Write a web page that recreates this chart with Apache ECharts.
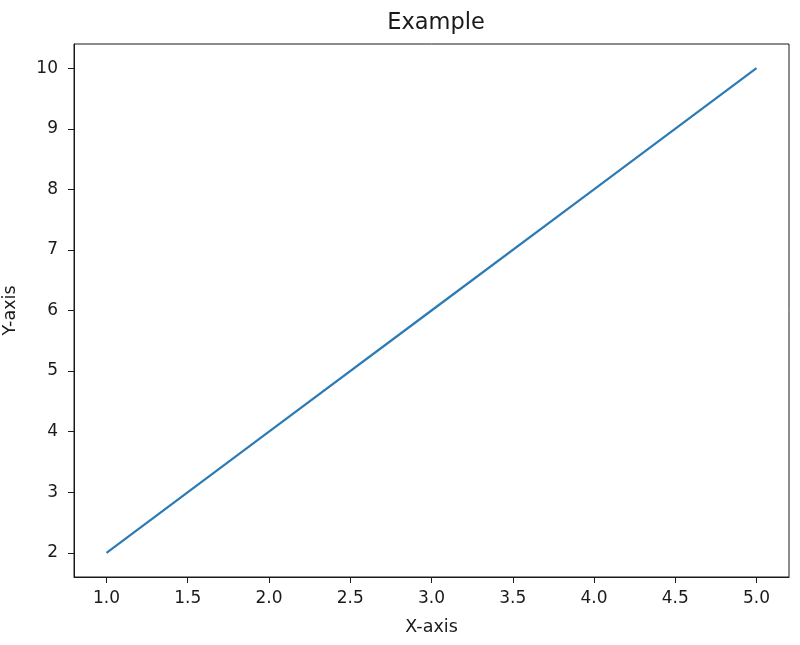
<!DOCTYPE html>
<html><head><meta charset="utf-8">
<script src="https://cdn.jsdelivr.net/npm/echarts@6/dist/echarts.min.js"></script>
<style>html,body{margin:0;padding:0;background:#fff}#c{width:800px;height:645px}</style>
</head><body><div id="c"></div>
<script>
const xValues = [1, 2, 3, 4, 5];
const yValues = [2, 4, 6, 8, 10];
const xTicks = [1.0, 1.5, 2.0, 2.5, 3.0, 3.5, 4.0, 4.5, 5.0];
const yTicks = [2, 3, 4, 5, 6, 7, 8, 9, 10];
const titleText = 'Example';
const xName = 'X-axis';
const yName = 'Y-axis';

const font = 'DejaVu Sans';
const chart = echarts.init(document.getElementById('c'), null, {renderer: 'canvas'});
chart.setOption({
  animation: false,
  backgroundColor: '#fff',
  title: {text: titleText, left: 431, top: 7, textAlign: 'center',
    textStyle: {fontFamily: font, fontSize: 22.5, fontWeight: 'normal', color: '#1a1a1a'}},
  grid: {left: 74, top: 44, right: 11, bottom: 68, show: true, borderColor: '#1a1a1a', borderWidth: 1,
    backgroundColor: 'transparent', outerBoundsMode: 'none', containLabel: false},
  xAxis: {type: 'value', min: 0.8, max: 5.2, name: xName, nameLocation: 'middle', nameGap: 41,
    nameTextStyle: {fontFamily: font, fontSize: 17.5, color: '#1a1a1a'},
    axisLine: {show: true, onZero: false, lineStyle: {color: '#1a1a1a', width: 1}},
    axisTick: {show: true, length: 6, customValues: xTicks, lineStyle: {color: '#1a1a1a'}},
    axisLabel: {customValues: xTicks, fontFamily: font, fontSize: 17, color: '#1a1a1a', margin: 13,
      formatter: v => v.toFixed(1)},
    splitLine: {show: false}},
  yAxis: {type: 'value', min: 1.6, max: 10.4, name: yName, nameLocation: 'middle', nameGap: 55,
    nameTextStyle: {fontFamily: font, fontSize: 17.5, color: '#1a1a1a'},
    axisLine: {show: true, onZero: false, lineStyle: {color: '#1a1a1a', width: 1}},
    axisTick: {show: true, length: 6, customValues: yTicks, lineStyle: {color: '#1a1a1a'}},
    axisLabel: {customValues: yTicks, fontFamily: font, fontSize: 17, color: '#1a1a1a', margin: 16,
      formatter: v => String(Math.round(v))},
    splitLine: {show: false}},
  series: [{type: 'line', data: xValues.map((x, i) => [x, yValues[i]]), showSymbol: false,
    lineStyle: {color: '#2b7bb6', width: 2.2}, itemStyle: {color: '#2b7bb6'}}]
});
</script></body></html>
